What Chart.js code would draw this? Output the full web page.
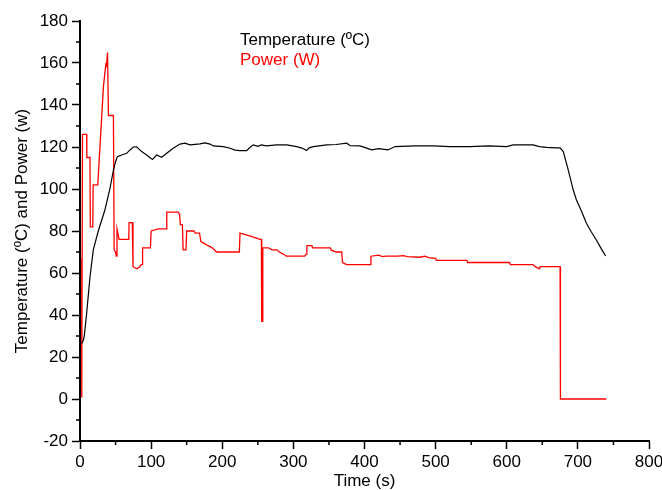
<!DOCTYPE html>
<html>
<head>
<meta charset="utf-8">
<script src="https://cdn.jsdelivr.net/npm/chart.js@4.4.0/dist/chart.umd.min.js"></script>
<style>
  body { margin: 0; background: #fff; }
</style>
</head>
<body>
<canvas id="chart" width="662" height="490"></canvas>
<script>
// temperature curve, time in s
const tempTime = [2.3, 4.7, 6, 9.4, 14, 18.7, 25.7, 35, 42, 47, 50, 52.5, 58.6, 65.6, 70.3, 75, 79.7, 83, 86.7, 93.7, 98, 102, 107.8, 114.8, 121.9, 131, 140.6, 147.6, 154.6, 168.7, 175.7, 182.8, 187.4, 201.5, 211, 218, 225, 234.4, 238, 243.7, 250, 255, 262, 276.5, 290.6, 304.7, 312, 318.7, 322, 328, 346.8, 360, 375, 380, 393.6, 400, 410, 420, 433, 443, 470, 496.7, 520, 548, 575, 600, 609, 637, 646, 656, 670, 675, 679.5, 686.5, 693.5, 698, 705, 712, 719, 726, 733, 739];
const tempValues = [26.5, 28, 30, 41, 58, 71, 80, 90, 100, 109, 113, 115.4, 116.2, 117, 118.6, 120, 120.1, 119, 117.8, 116.2, 115, 114.1, 116.2, 115.1, 117, 119.4, 121.4, 121.8, 121, 121.5, 122, 121.4, 120.5, 120.2, 119.4, 118.5, 118.3, 118.3, 119.5, 121, 120.3, 121, 120.5, 121, 121, 120.2, 119.5, 118.3, 119.6, 120.2, 121, 121.2, 121.8, 120.6, 120.5, 119.8, 118.6, 119.2, 118.6, 120.2, 120.5, 120.5, 120.2, 120.2, 120.5, 120.2, 121, 121, 120.2, 119.8, 119.6, 119.6, 117.8, 109, 99.5, 94.8, 89.5, 83.7, 79.5, 75.7, 71.5, 68.1];

// power curve (step corners), time in s
const powerTime = [1.5, 2.2, 2.8, 3.5, 9.4, 9.6, 14, 14.5, 18, 18.5, 25, 33, 36.5, 37, 38.7, 40, 47, 48, 50, 51, 52, 55, 68.5, 69, 73.5, 74.5, 80, 84, 86, 87.5, 88, 99, 100, 110, 121, 122, 138, 140, 141, 144, 145, 149, 150, 160, 162, 168, 170, 175, 180, 186, 192, 224, 225, 235, 245, 253, 255, 255.5, 256.5, 257, 265, 270, 277, 280, 286, 290, 300, 316, 318, 319, 326, 327, 340, 352, 353, 360, 368, 369, 375, 390, 408, 409, 420, 425, 430, 446, 455, 460, 478, 485, 490, 500, 501, 544, 545, 604, 605, 637, 640, 646, 647, 675, 675.5, 740];
const powerValues = [1, 67, 3, 126, 126, 115, 115, 82, 82, 102, 102, 149, 160, 158, 165, 135, 135, 71, 70, 68, 81, 76, 76, 84, 84, 63, 62, 63, 64, 64, 72, 72, 80, 81, 81, 89, 89, 88, 83, 83, 71, 71, 80, 80, 79, 79, 75, 74, 73, 72, 70, 70, 79, 78, 77, 76, 76, 37, 37, 72, 72, 71, 71, 70, 69, 68, 68, 68, 69, 73, 73, 72, 72, 72, 71, 70, 70, 65, 64, 64, 64, 68, 68.5, 67.8, 68, 68, 68.3, 67.8, 67.5, 68, 67.3, 67, 66, 66, 65, 65, 64, 64, 63, 62, 63, 63, 0, 0];

const xTicks = [0, 100, 200, 300, 400, 500, 600, 700, 800];
const yTicks = [-20, 0, 20, 40, 60, 80, 100, 120, 140, 160, 180];

const labelFont = { family: "'Liberation Sans', Arial, sans-serif", size: 17 };

// text-only legend, like the original
const textLegend = {
    id: 'textLegend',
    afterDraw(chart) {
        const ctx = chart.ctx;
        ctx.save();
        ctx.font = "17px 'Liberation Sans', Arial, sans-serif";
        ctx.textAlign = 'left';
        ctx.textBaseline = 'alphabetic';
        chart.data.datasets.forEach((ds, i) => {
            ctx.fillStyle = ds.borderColor;
            ctx.fillText(ds.label, 240, 45 + i * 19.5);
        });
        ctx.restore();
    }
};

// short minor ticks between the labelled ones
const minorTicks = {
    id: 'minorTicks',
    afterDraw(chart) {
        const ctx = chart.ctx;
        const xs = chart.scales.x, ys = chart.scales.y;
        ctx.save();
        ctx.strokeStyle = '#000';
        ctx.lineWidth = 1.5;
        ctx.beginPath();
        for (let v = -10; v < 180; v += 20) {
            const py = ys.getPixelForValue(v);
            ctx.moveTo(xs.left - 4, py);
            ctx.lineTo(xs.left, py);
        }
        for (let v = 50; v < 800; v += 100) {
            const px = xs.getPixelForValue(v);
            ctx.moveTo(px, ys.bottom);
            ctx.lineTo(px, ys.bottom + 4);
        }
        ctx.stroke();
        ctx.restore();
    }
};

const ctx = document.getElementById('chart').getContext('2d');
new Chart(ctx, {
    type: 'line',
    data: {
        datasets: [
            {
                label: 'Temperature (ºC)',
                data: tempTime.map((t, i) => ({ x: t, y: tempValues[i] })),
                borderColor: '#000000',
                borderWidth: 1.2,
                pointRadius: 0,
                tension: 0,
                fill: false
            },
            {
                label: 'Power (W)',
                data: powerTime.map((t, i) => ({ x: t, y: powerValues[i] })),
                borderColor: '#ff0000',
                borderWidth: 1.3,
                pointRadius: 0,
                tension: 0,
                fill: false
            }
        ]
    },
    options: {
        responsive: false,
        animation: false,
        layout: { padding: { left: 0, top: 21, right: 13, bottom: 0 } },
        plugins: {
            legend: { display: false },
            tooltip: { enabled: false }
        },
        scales: {
            x: {
                type: 'linear',
                min: 0,
                max: 800,
                afterBuildTicks: s => { s.ticks = xTicks.map(v => ({ value: v })); },
                afterFit: s => { s.height = 49; s.paddingRight = 0; s.paddingLeft = 0; },
                border: { display: true, color: '#000', width: 2 },
                grid: { drawOnChartArea: false, drawTicks: true, tickLength: 8, tickColor: '#000', tickWidth: 1.5 },
                ticks: { color: '#000', font: labelFont, padding: 3, maxRotation: 0 },
                title: {
                    display: true,
                    text: 'Time (s)',
                    color: '#000',
                    font: { family: labelFont.family, size: 17, lineHeight: 1 },
                    padding: { top: 0, bottom: 0 }
                }
            },
            y: {
                type: 'linear',
                min: -20,
                max: 180,
                afterBuildTicks: s => { s.ticks = yTicks.map(v => ({ value: v })); },
                afterFit: s => { s.width = 80; },
                border: { display: true, color: '#000', width: 2 },
                grid: { drawOnChartArea: false, drawTicks: true, tickLength: 8, tickColor: '#000', tickWidth: 1.5 },
                ticks: { color: '#000', font: labelFont, padding: 4 },
                title: {
                    display: true,
                    text: 'Temperature (ºC) and Power (w)',
                    color: '#000',
                    font: { family: labelFont.family, size: 17, lineHeight: 1 },
                    padding: { top: 14, bottom: 0 }
                }
            }
        }
    },
    plugins: [textLegend, minorTicks]
});
</script>
</body>
</html>
